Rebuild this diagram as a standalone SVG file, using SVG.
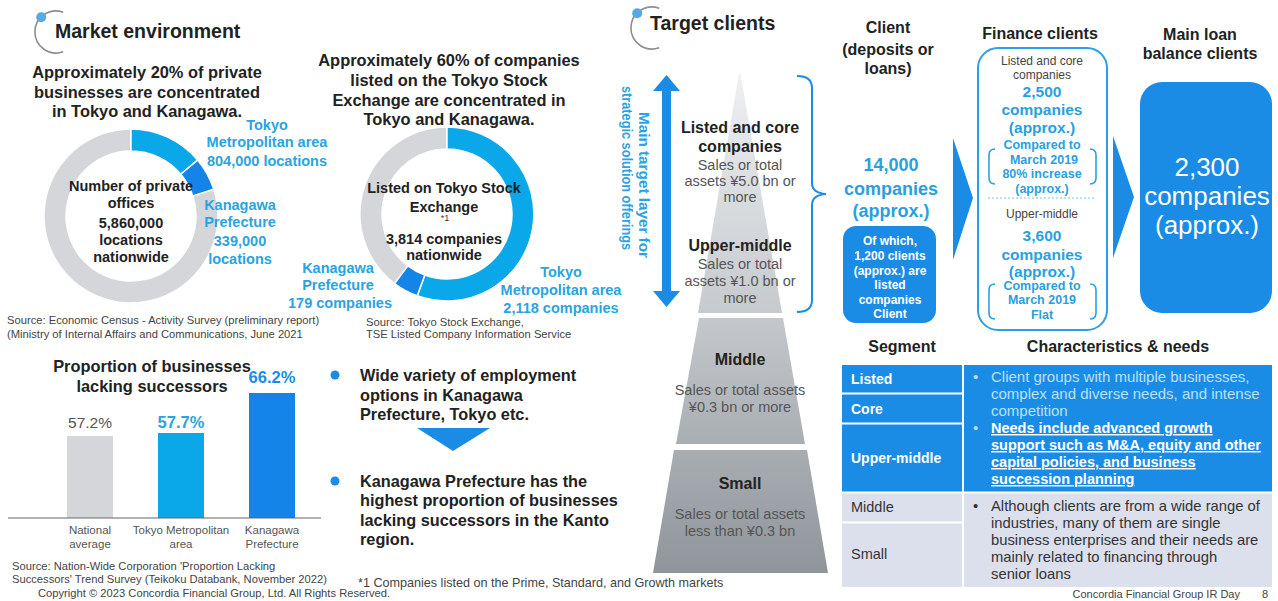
<svg xmlns="http://www.w3.org/2000/svg" width="1278" height="601" viewBox="0 0 1278 601">
<defs>
<style>
text{font-family:"Liberation Sans",Arial,sans-serif;}
.h{font-size:19.5px;font-weight:bold;fill:#222;}
.t{font-size:16.4px;font-weight:bold;fill:#222;text-anchor:middle;}
.c{font-size:14.5px;font-weight:bold;fill:#222;text-anchor:middle;}
.cy{font-size:14.5px;font-weight:bold;fill:#2AA4E0;text-anchor:middle;}
.src{font-size:11.2px;fill:#444;}
.ax{font-size:11.5px;fill:#555;text-anchor:middle;}
.bl{font-size:16.3px;font-weight:bold;fill:#222;}
.pb{font-size:16px;font-weight:bold;fill:#222;text-anchor:middle;}
.pn{font-size:14.5px;fill:#555;text-anchor:middle;}
.ch{font-size:16px;font-weight:bold;fill:#222;text-anchor:middle;}
.bb{font-size:15.5px;font-weight:bold;fill:#2A9FE0;text-anchor:middle;}
.bs{font-size:12.5px;font-weight:bold;fill:#2A9FE0;text-anchor:middle;}
.gs{font-size:12px;fill:#444;text-anchor:middle;}
.wb{font-size:12px;font-weight:bold;fill:#fff;text-anchor:middle;}
.seg{font-size:14px;font-weight:bold;fill:#fff;}
.segd{font-size:14.5px;fill:#333;}
.tp{font-size:15px;fill:#BBE0F8;}
.tw{font-size:14.5px;font-weight:bold;fill:#fff;text-decoration:underline;}
.td{font-size:14.8px;fill:#333;}
.blue{fill:#1A8CE6;}
.icon{fill:none;stroke:#8A8F95;stroke-width:1.6;}
</style>
<linearGradient id="g1" x1="0" y1="0" x2="0" y2="1"><stop offset="0" stop-color="#EEF0F2"/><stop offset="1" stop-color="#C6CACE"/></linearGradient>
<linearGradient id="g2" x1="0" y1="0" x2="0" y2="1"><stop offset="0" stop-color="#C4C8CC"/><stop offset="1" stop-color="#A9AEB2"/></linearGradient>
<linearGradient id="g3" x1="0" y1="0" x2="0" y2="1"><stop offset="0" stop-color="#A8ADB2"/><stop offset="1" stop-color="#8F959A"/></linearGradient>
</defs>
<rect width="1278" height="601" fill="#fff"/>

<!-- Market environment header -->
<g id="hdr-market">
<path class="icon" d="M63.2,12.3 A21,21 0 1 0 63.2,51.7"/>
<circle cx="41.2" cy="17.2" r="5" fill="#5BA8E0"/>
<text class="h" x="55" y="38">Market environment</text>
</g>

<!-- Donut 1 -->
<g id="donut1">
<text class="t" x="147" y="78">Approximately 20% of private</text>
<text class="t" x="147" y="98">businesses are concentrated</text>
<text class="t" x="147" y="117">in Tokyo and Kanagawa.</text>
<path d="M213.7,189.1 A87,87 0 1 1 131,129 L131,151 A65,65 0 1 0 192.8,195.9 Z" fill="#D4D6D9" stroke="#fff" stroke-width="1.5"/>
<path d="M131,129 A87,87 0 0 1 197.6,160.1 L180.8,174.2 A65,65 0 0 0 131,151 Z" fill="#0AA8E8" stroke="#fff" stroke-width="1.5"/>
<path d="M197.6,160.1 A87,87 0 0 1 213.7,189.1 L192.8,195.9 A65,65 0 0 0 180.8,174.2 Z" fill="#1484E8" stroke="#fff" stroke-width="1.5"/>
<text class="c" x="131" y="191">Number of private</text>
<text class="c" x="131" y="208">offices</text>
<text class="c" x="131" y="228">5,860,000</text>
<text class="c" x="131" y="245">locations</text>
<text class="c" x="131" y="262">nationwide</text>
<text class="cy" x="267" y="130">Tokyo</text>
<text class="cy" x="267" y="147">Metropolitan area</text>
<text class="cy" x="267" y="166">804,000 locations</text>
<text class="cy" x="240" y="210">Kanagawa</text>
<text class="cy" x="240" y="227">Prefecture</text>
<text class="cy" x="240" y="246">339,000</text>
<text class="cy" x="240" y="264">locations</text>
<text class="src" x="7" y="324">Source: Economic Census - Activity Survey (preliminary report)</text>
<text class="src" x="7" y="338">(Ministry of Internal Affairs and Communications, June 2021</text>
</g>

<!-- Donut 2 -->
<g id="donut2">
<text class="t" x="449" y="66">Approximately 60% of companies</text>
<text class="t" x="449" y="86">listed on the Tokyo Stock</text>
<text class="t" x="449" y="106">Exchange are concentrated in</text>
<text class="t" x="449" y="125">Tokyo and Kanagawa.</text>
<path d="M394.6,283.5 A87,87 0 0 1 447,127 L447,149 A65,65 0 0 0 407.9,265.9 Z" fill="#D4D6D9" stroke="#fff" stroke-width="1.5"/>
<path d="M447,127 A87,87 0 1 1 417.2,295.8 L424.8,275.1 A65,65 0 1 0 447,149 Z" fill="#0AA8E8" stroke="#fff" stroke-width="1.5"/>
<path d="M417.2,295.8 A87,87 0 0 1 394.6,283.5 L407.9,265.9 A65,65 0 0 0 424.8,275.1 Z" fill="#1484E8" stroke="#fff" stroke-width="1.5"/>
<text class="c" x="444" y="193">Listed on Tokyo Stock</text>
<text class="c" x="444" y="212">Exchange</text>
<text x="445" y="221" font-size="9" fill="#333" text-anchor="middle">*1</text>
<text class="c" x="444" y="244">3,814 companies</text>
<text class="c" x="444" y="260">nationwide</text>
<text class="cy" x="338" y="273">Kanagawa</text>
<text class="cy" x="338" y="290">Prefecture</text>
<text class="cy" x="340" y="308">179 companies</text>
<text class="cy" x="561" y="277">Tokyo</text>
<text class="cy" x="561" y="295">Metropolitan area</text>
<text class="cy" x="561" y="313">2,118 companies</text>
<text class="src" x="366" y="326">Source: Tokyo Stock Exchange,</text>
<text class="src" x="366" y="338">TSE Listed Company Information Service</text>
</g>

<!-- Bar chart -->
<g id="bars">
<text class="t" x="152" y="372">Proportion of businesses</text>
<text class="t" x="152" y="392">lacking successors</text>
<rect x="67" y="436" width="46" height="82" fill="#D4D6D9"/>
<rect x="158" y="433" width="46" height="85" fill="#0AA8E8"/>
<rect x="249" y="393" width="46" height="125" fill="#1484E8"/>
<line x1="8" y1="518" x2="321" y2="518" stroke="#666" stroke-width="1.2"/>
<text x="90" y="428" font-size="15.5" fill="#555" text-anchor="middle">57.2%</text>
<text x="181" y="428" font-size="16.5" font-weight="bold" fill="#2AA4E0" text-anchor="middle">57.7%</text>
<text x="272" y="383" font-size="16.5" font-weight="bold" fill="#1A8CE6" text-anchor="middle">66.2%</text>
<text class="ax" x="90" y="534">National</text>
<text class="ax" x="90" y="548">average</text>
<text class="ax" x="181" y="534">Tokyo Metropolitan</text>
<text class="ax" x="181" y="548">area</text>
<text class="ax" x="272" y="534">Kanagawa</text>
<text class="ax" x="272" y="548">Prefecture</text>
<text class="src" x="12" y="570">Source: Nation-Wide Corporation 'Proportion Lacking</text>
<text class="src" x="12" y="583">Successors' Trend Survey (Teikoku Databank, November 2022)</text>
<text class="src" x="38" y="597">Copyright © 2023 Concordia Financial Group, Ltd. All Rights Reserved.</text>
</g>

<!-- Bullets -->
<g id="bullets">
<circle cx="335" cy="375" r="4.5" class="blue"/>
<text class="bl" x="360" y="381">Wide variety of employment</text>
<text class="bl" x="360" y="401">options in Kanagawa</text>
<text class="bl" x="360" y="420">Prefecture, Tokyo etc.</text>
<path d="M417,428 L490,428 L453,451 Z" class="blue"/>
<circle cx="335" cy="481" r="4.5" class="blue"/>
<text class="bl" x="360" y="487">Kanagawa Prefecture has the</text>
<text class="bl" x="360" y="506">highest proportion of businesses</text>
<text class="bl" x="360" y="526">lacking successors in the Kanto</text>
<text class="bl" x="360" y="545">region.</text>
<text x="358" y="587" font-size="12.6" fill="#444">*1 Companies listed on the Prime, Standard, and Growth markets</text>
</g>

<!-- Target clients header -->
<g id="hdr-target">
<path class="icon" d="M659.2,8.3 A21,21 0 1 0 659.2,47.7"/>
<circle cx="637.2" cy="13.2" r="5" fill="#5BA8E0"/>
<text class="h" x="650" y="30">Target clients</text>
</g>

<!-- Pyramid -->
<g id="pyramid">
<path d="M739,74 L740.5,74 L782,313 L698,313 Z" fill="url(#g1)"/>
<path d="M699,318 L783,318 L805,444 L676,444 Z" fill="url(#g2)"/>
<path d="M674,450 L807,450 L828,573 L653,573 Z" fill="url(#g3)"/>
<text class="pb" x="740" y="133">Listed and core</text>
<text class="pb" x="740" y="152">companies</text>
<text class="pn" x="740" y="170">Sales or total</text>
<text class="pn" x="740" y="186">assets ¥5.0 bn or</text>
<text class="pn" x="740" y="202">more</text>
<text class="pb" x="740" y="251">Upper-middle</text>
<text class="pn" x="740" y="269">Sales or total</text>
<text class="pn" x="740" y="286">assets ¥1.0 bn or</text>
<text class="pn" x="740" y="303">more</text>
<text class="pb" x="740" y="365">Middle</text>
<text class="pn" x="740" y="395">Sales or total assets</text>
<text class="pn" x="740" y="412">¥0.3 bn or more</text>
<text class="pb" x="740" y="489">Small</text>
<text class="pn" x="740" y="519">Sales or total assets</text>
<text class="pn" x="740" y="536">less than ¥0.3 bn</text>
</g>

<!-- Main target arrow -->
<g id="target-arrow">
<path d="M666.5,75 L680,91 L671,91 L671,291 L680,291 L666.5,307 L653,291 L662,291 L662,91 L653,91 Z" class="blue"/>
<text transform="translate(639,185) rotate(90)" font-size="14" font-weight="bold" fill="#2AA4E0" text-anchor="middle" textLength="146" lengthAdjust="spacingAndGlyphs">Main target layer for</text>
<text transform="translate(622,168) rotate(90)" font-size="14" font-weight="bold" fill="#2AA4E0" text-anchor="middle" textLength="164" lengthAdjust="spacingAndGlyphs">strategic solution offerings</text>
</g>

<!-- Connectors -->
<g id="connectors" fill="none" stroke="#1A8CE6" stroke-width="2">
<path d="M797,76 Q812,76 812,88 L812,183 Q812,193 826,194 Q812,195 812,205 L812,300 Q812,312 797,312"/>
<path d="M953,138 L973,198 L953,260 Z" fill="#1A8CE6" stroke="none"/>
<path d="M1113,136 L1134,197 L1113,258 Z" fill="#1A8CE6" stroke="none"/>
</g>

<!-- Client column -->
<g id="client">
<text class="ch" x="888" y="33">Client</text>
<text class="ch" x="888" y="55">(deposits or</text>
<text class="ch" x="888" y="74">loans)</text>
<text x="891" y="171" font-size="18" font-weight="bold" fill="#2A9FE0" text-anchor="middle">14,000</text>
<text x="891" y="195" font-size="18" font-weight="bold" fill="#2A9FE0" text-anchor="middle">companies</text>
<text x="891" y="217" font-size="18" font-weight="bold" fill="#2A9FE0" text-anchor="middle">(approx.)</text>
<rect x="843" y="226" width="93" height="97" rx="13" class="blue"/>
<text class="wb" x="890" y="245">Of which,</text>
<text class="wb" x="890" y="260">1,200 clients</text>
<text class="wb" x="890" y="275">(approx.) are</text>
<text class="wb" x="890" y="289">listed</text>
<text class="wb" x="890" y="304">companies</text>
<text class="wb" x="890" y="318">Client</text>
</g>

<!-- Finance clients -->
<g id="finance">
<text class="ch" x="1040" y="39">Finance clients</text>
<rect x="978" y="48" width="129" height="282" rx="20" fill="none" stroke="#2AA0E6" stroke-width="2"/>
<text class="gs" x="1042" y="65">Listed and core</text>
<text class="gs" x="1042" y="79">companies</text>
<text class="bb" x="1042" y="97">2,500</text>
<text class="bb" x="1042" y="115">companies</text>
<text class="bb" x="1042" y="133">(approx.)</text>
<text class="bs" x="1042" y="149">Compared to</text>
<text class="bs" x="1044" y="164">March 2019</text>
<text class="bs" x="1042" y="178">80% increase</text>
<text class="bs" x="1042" y="193" font-weight="normal">(approx.)</text>
<path d="M995,149 Q989,149 989,155 L989,178 Q989,184 995,184 M1090,149 Q1096,149 1096,155 L1096,178 Q1096,184 1090,184" fill="none" stroke="#2AA0E6" stroke-width="1.6"/>
<line x1="988" y1="198" x2="1095" y2="198" stroke="#7FBDEB" stroke-width="1" stroke-dasharray="2,2"/>
<text class="gs" x="1042" y="218">Upper-middle</text>
<text class="bb" x="1042" y="241">3,600</text>
<text class="bb" x="1042" y="260">companies</text>
<text class="bb" x="1042" y="277">(approx.)</text>
<text class="bs" x="1042" y="290">Compared to</text>
<text class="bs" x="1042" y="304">March 2019</text>
<text class="bs" x="1042" y="319">Flat</text>
<path d="M995,284 Q989,284 989,290 L989,313 Q989,319 995,319 M1090,284 Q1096,284 1096,290 L1096,313 Q1096,319 1090,319" fill="none" stroke="#2AA0E6" stroke-width="1.6"/>
</g>

<!-- Main loan balance clients -->
<g id="mainloan">
<text class="ch" x="1200" y="40">Main loan</text>
<text class="ch" x="1200" y="59">balance clients</text>
<rect x="1140" y="82" width="132" height="231" rx="22" class="blue"/>
<text x="1207" y="176" font-size="26" fill="#fff" text-anchor="middle">2,300</text>
<text x="1207" y="205" font-size="26" fill="#fff" text-anchor="middle">companies</text>
<text x="1207" y="234" font-size="26" fill="#fff" text-anchor="middle">(approx.)</text>
</g>

<!-- Segment table -->
<g id="segment-table">
<text class="ch" x="902" y="352">Segment</text>
<text class="ch" x="1118" y="352">Characteristics &amp; needs</text>
<rect x="842" y="365" width="430" height="127" class="blue"/>
<rect x="842" y="493" width="430" height="94" fill="#DCE0ED"/>
<g stroke="#fff" stroke-width="2">
<line x1="842" y1="393.5" x2="963" y2="393.5"/>
<line x1="842" y1="423.5" x2="963" y2="423.5"/>
<line x1="842" y1="492.5" x2="1272" y2="492.5"/>
<line x1="842" y1="522.5" x2="963" y2="522.5"/>
<line x1="963" y1="365" x2="963" y2="587"/>
</g>
<text class="seg" x="851" y="384">Listed</text>
<text class="seg" x="851" y="414">Core</text>
<text class="seg" x="851" y="463">Upper-middle</text>
<text class="segd" x="851" y="512">Middle</text>
<text class="segd" x="851" y="559">Small</text>
<text class="tp" x="973" y="382">•</text>
<text class="tp" x="991" y="382">Client groups with multiple businesses,</text>
<text class="tp" x="991" y="399">complex and diverse needs, and intense</text>
<text class="tp" x="991" y="416">competition</text>
<text class="tp" x="973" y="433">•</text>
<text class="tw" x="991" y="433">Needs include advanced growth</text>
<text class="tw" x="991" y="450">support such as M&amp;A, equity and other</text>
<text class="tw" x="991" y="467">capital policies, and business</text>
<text class="tw" x="991" y="484">succession planning</text>
<text class="td" x="973" y="511">•</text>
<text class="td" x="991" y="511">Although clients are from a wide range of</text>
<text class="td" x="991" y="528">industries, many of them are single</text>
<text class="td" x="991" y="545">business enterprises and their needs are</text>
<text class="td" x="991" y="562">mainly related to financing through</text>
<text class="td" x="991" y="579">senior loans</text>
</g>

<g id="footer">
<text x="1240" y="598" font-size="11" fill="#444" text-anchor="end">Concordia Financial Group IR Day</text>
<text x="1262" y="598" font-size="11" fill="#444">8</text>
</g>
</svg>
